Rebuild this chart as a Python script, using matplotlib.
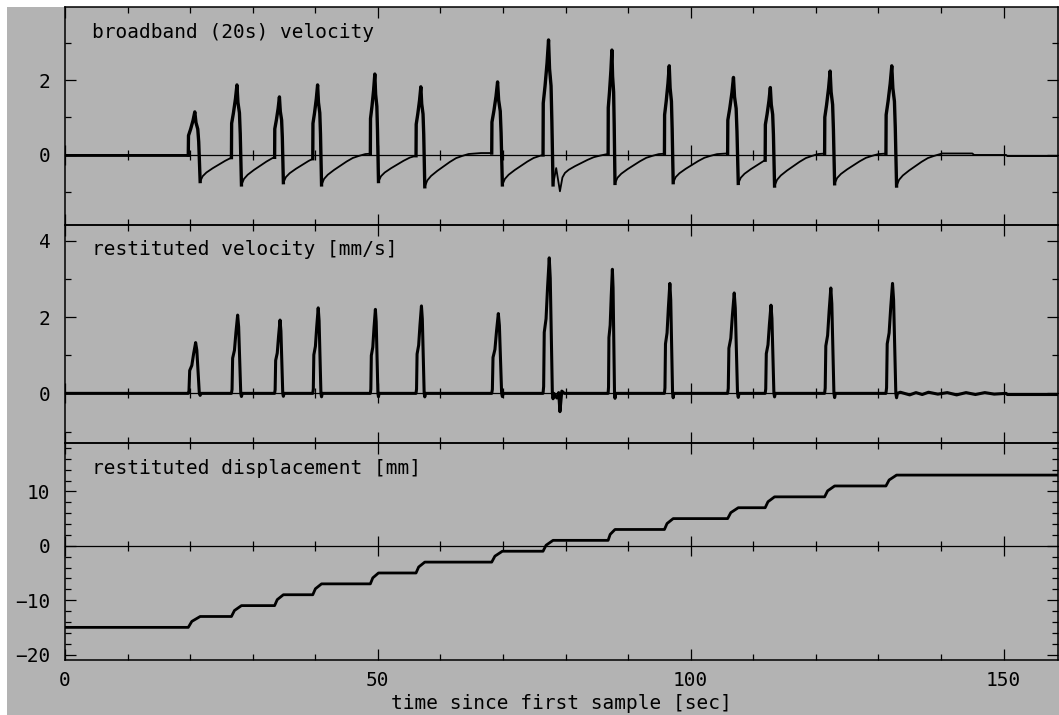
import numpy as np
import matplotlib.pyplot as plt
from matplotlib.patches import Rectangle
from matplotlib.ticker import MultipleLocator

# pulse timing [sec]
onset = [19.7, 26.6, 33.5, 39.6, 48.8, 56.1, 68.2, 76.4, 86.8, 95.8, 105.9, 111.9, 121.4, 131.2]
trough_t = [21.6, 28.2, 34.9, 41.0, 50.1, 57.5, 69.9, 78.0, 87.9, 97.2, 107.6, 113.4, 123.0, 132.9]

# broadband (20s) velocity: peak and undershoot of each pulse
bb_peak = [1.15, 1.87, 1.55, 1.87, 2.16, 1.82, 1.95, 3.07, 2.80, 2.38, 2.07, 1.80, 2.24, 2.38]
bb_trough = [-0.71, -0.80, -0.74, -0.80, -0.71, -0.85, -0.80, -0.80, -0.76, -0.74, -0.76, -0.83, -0.77, -0.83]
# pulse outline: fraction of pulse duration / fraction of peak
bb_shape_t = [0.02, 0.20, 0.40, 0.55, 0.65, 0.80, 0.88]
bb_shape_v = [0.45, 0.60, 0.80, 1.00, 0.75, 0.60, 0.30]
# recovery after the undershoot: seconds after trough / fraction of trough
rec_t = [0, 0.4, 1, 2, 3, 4, 5, 6, 7, 9]
rec_v = [1, 0.80, 0.66, 0.50, 0.36, 0.22, 0.10, 0.03, -0.03, -0.06]
# ringing after the biggest pulse
ring_pulse = 7
bb_ring_t = [78.5, 79.1, 79.5]
bb_ring_v = [-0.35, -0.97, -0.60]
bb_tail_t = [139.8, 140.2, 145.0, 145.3, 150.4, 150.6, 158.7]
bb_tail_v = [0.0, 0.04, 0.04, 0.0, 0.0, -0.03, -0.03]

# restituted velocity [mm/s]
vel_peak = [1.33, 2.05, 1.92, 2.24, 2.20, 2.29, 2.09, 3.55, 3.25, 2.88, 2.63, 2.31, 2.76, 2.88]
vel_shape_t = [0.0, 0.06, 0.12, 0.30, 0.45, 0.62, 0.72, 0.84, 0.93, 1.00, 1.08]
vel_shape_v = [0.0, 0.05, 0.45, 0.55, 0.78, 1.00, 0.85, 0.35, 0.0, -0.04, 0.0]
vel_ring_t = [78.6, 78.9, 79.1, 79.4, 79.8]
vel_ring_v = [-0.12, 0.02, -0.48, 0.06, 0.0]
vel_tail_t = [133.5, 135.0, 136.0, 137.0, 138.0, 139.5, 141.0, 142.5, 144.0, 145.5,
              147.0, 148.5, 150.4, 150.6, 158.7]
vel_tail_v = [0.03, -0.04, 0.02, -0.03, 0.03, -0.02, 0.02, -0.04, 0.02, -0.03,
              0.02, -0.02, 0.0, -0.03, -0.03]

# restituted displacement [mm]: level before/after every pulse
disp_level = [-15, -13, -11, -9, -7, -5, -3, -1, 1, 3, 5, 7, 9, 11, 13]

T_END = 158.7
GRAY = "#b3b3b3"
FONT = "DejaVu Sans Mono"


def broadband_trace():
    t, v, pulses = [0.0], [0.0], []
    n = len(onset)
    for i in range(n):
        d = trough_t[i] - onset[i]
        t.append(onset[i]); v.append(v[-1])
        pt, pv = [], []
        for f, g in zip(bb_shape_t, bb_shape_v):
            pt.append(onset[i] + f * d); pv.append(g * bb_peak[i])
        pt.append(trough_t[i]); pv.append(bb_trough[i])
        pulses.append(([t[-1]] + pt, [v[-1]] + pv))
        t += pt; v += pv
        t0, v0 = trough_t[i], bb_trough[i]
        if i == ring_pulse:
            t += bb_ring_t; v += bb_ring_v
            t0, v0 = bb_ring_t[-1], bb_ring_v[-1]
        stop = onset[i + 1] if i + 1 < n else bb_tail_t[0]
        for dt, f in zip(rec_t[1:], rec_v[1:]):
            if t0 + dt < stop:
                t.append(t0 + dt); v.append(f * v0)
        # where the next pulse cuts the recovery off
        t.append(stop); v.append(np.interp(stop - t0, rec_t, rec_v) * v0)
    t += bb_tail_t[1:]; v += bb_tail_v[1:]
    return t, v, pulses


def velocity_trace():
    t, v = [0.0], [0.0]
    for i in range(len(onset)):
        d = trough_t[i] - onset[i]
        for f, g in zip(vel_shape_t, vel_shape_v):
            t.append(onset[i] + f * d); v.append(g * vel_peak[i])
        if i == ring_pulse:
            t += vel_ring_t; v += vel_ring_v
    t += vel_tail_t; v += vel_tail_v
    return t, v, []


def displacement_trace():
    t, v = [0.0], [disp_level[0]]
    for i in range(len(onset)):
        d = trough_t[i] - onset[i]
        lo, hi = disp_level[i], disp_level[i + 1]
        t += [onset[i], onset[i] + 0.3 * d, trough_t[i]]
        v += [lo, lo + 0.55 * (hi - lo), hi]
    t.append(T_END); v.append(disp_level[-1])
    return t, v, []


W, H = 1059, 715
fig = plt.figure(figsize=(W / 100, H / 100), dpi=100, facecolor="white")
fig.patches.append(Rectangle((7 / W, 0), 1, 1 - 7 / H, transform=fig.transFigure,
                             facecolor=GRAY, edgecolor="none", zorder=-10))

left, right = 65 / W, 1058 / W
edges = [7, 225, 443, 660]
panels = [
    ("broadband (20s) velocity", broadband_trace(), (-1.87, 3.95), 2, 1, 1.3),
    ("restituted velocity [mm/s]", velocity_trace(), (-1.30, 4.41), 2, 1, 2.2),
    ("restituted displacement [mm]", displacement_trace(), (-21.0, 18.9), 10, 2, 2.0),
]

axes = []
for k, (label, (t, v, pulses), ylim, ymaj, ymin, lw) in enumerate(panels):
    top, bot = edges[k], edges[k + 1]
    ax = fig.add_axes([left, 1 - bot / H, right - left, (bot - top) / H])
    ax.set_facecolor("none")
    ax.plot(t, v, color="black", lw=lw)
    for pt, pv in pulses:
        ax.plot(pt, pv, color="black", lw=2.4)
    if k == 0:
        ax.plot([0, onset[0]], [0, 0], color="black", lw=2.0)
    ax.set_xlim(0, T_END)
    ax.set_ylim(*ylim)
    ax.xaxis.set_major_locator(MultipleLocator(50))
    ax.xaxis.set_minor_locator(MultipleLocator(10))
    ax.yaxis.set_major_locator(MultipleLocator(ymaj))
    ax.yaxis.set_minor_locator(MultipleLocator(ymin))
    ax.tick_params(which="both", direction="in", top=True, right=True,
                   width=0.9, labelsize=14, pad=10.5)
    ax.tick_params(which="major", length=8)
    ax.tick_params(which="minor", length=4.3)
    ax.tick_params(axis="x", pad=8)
    for lab in ax.get_xticklabels() + ax.get_yticklabels():
        lab.set_family(FONT)
    for s in ax.spines.values():
        s.set_linewidth(1.1)
    if k < 2:
        ax.tick_params(labelbottom=False)

    # zero axis with crossing ticks
    zero = ax.secondary_xaxis(-ylim[0] / (ylim[1] - ylim[0]))
    zero.xaxis.set_major_locator(MultipleLocator(50))
    zero.xaxis.set_minor_locator(MultipleLocator(10))
    zero.tick_params(which="both", direction="inout", width=0.9,
                     labeltop=False, labelbottom=False)
    zero.tick_params(which="major", length=14)
    zero.tick_params(which="minor", length=7)
    for s in zero.spines.values():
        s.set_linewidth(0.9)

    ax.text(0.027, 1 - 30.5 / (bot - top), label, transform=ax.transAxes,
            fontsize=14, family=FONT, va="baseline", ha="left")
    axes.append(ax)

axes[2].set_xlabel("time since first sample [sec]", fontsize=14, family=FONT, labelpad=3)

fig.savefig("out.png", dpi=100, facecolor=fig.get_facecolor())
